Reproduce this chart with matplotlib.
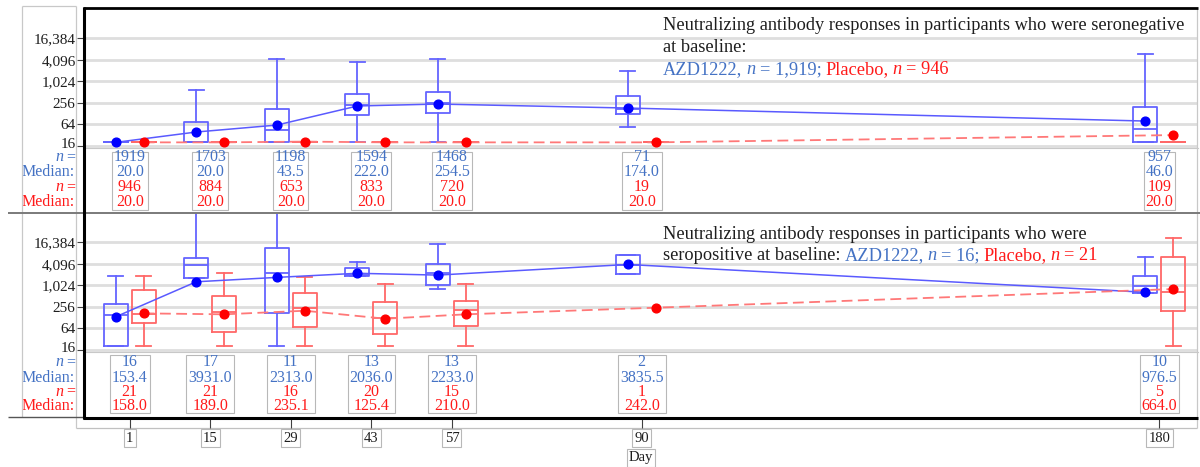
import matplotlib
matplotlib.use('Agg')
import matplotlib.pyplot as plt
from matplotlib.lines import Line2D
from matplotlib.patches import Rectangle
from matplotlib.transforms import blended_transform_factory, Bbox, ScaledTranslation

plt.rcParams['font.family'] = ['Liberation Serif', 'DejaVu Serif']

days = [1, 15, 29, 43, 57, 90, 180]
day_labels = ['1', '15', '29', '43', '57', '90', '180']
ytick_vals = [16, 64, 256, 1024, 4096, 16384]
ytick_text = ['16', '64', '256', '1,024', '4,096', '16,384']

# seronegative at baseline - AZD1222
neg_azd_n = [1919, 1703, 1198, 1594, 1468, 71, 957]
neg_azd_med = [20.0, 20.0, 43.5, 222.0, 254.5, 174.0, 46.0]
neg_azd_q1 = [20, 20, 20, 117, 132, 125, 20]
neg_azd_q3 = [20, 74, 171, 451, 515, 397, 195]
neg_azd_lo = [20, 20, 20, 20, 20, 54, 20]
neg_azd_hi = [20, 583, 4290, 3560, 4290, 1980, 5950]
neg_azd_gmt = [20, 39, 61, 209, 237, 183, 79]

# seronegative at baseline - placebo
neg_pbo_n = [946, 884, 653, 833, 720, 19, 109]
neg_pbo_med = [20.0, 20.0, 20.0, 20.0, 20.0, 20.0, 20.0]
neg_pbo_q1 = [20, 20, 20, 20, 20, 20, 20]
neg_pbo_q3 = [20, 20, 20, 20, 20, 20, 20]
neg_pbo_lo = [20, 20, 20, 20, 20, 20, 20]
neg_pbo_hi = [20, 20, 20, 20, 20, 20, 20]
neg_pbo_gmt = [20, 20, 21, 20, 20, 20, 32]

# seropositive at baseline - AZD1222
pos_azd_n = [16, 17, 11, 13, 13, 2, 10]
pos_azd_med = [153.4, 3931.0, 2313.0, 2036.0, 2233.0, 3835.5, 976.5]
pos_azd_q1 = [20, 1660, 174, 1900, 1045, 2130, 635]
pos_azd_q3 = [301, 5860, 11150, 3180, 4050, 7230, 1900]
pos_azd_lo = [20, 1660, 20, 1900, 790, 2130, 635]
pos_azd_hi = [1900, 120000, 120000, 4680, 14700, 7230, 6200]
pos_azd_gmt = [135, 1290, 1710, 2230, 1985, 3940, 655]

# seropositive at baseline - placebo (day 90 has a single subject, no box)
pos_pbo_n = [21, 21, 16, 20, 15, 1, 5]
pos_pbo_med = [158.0, 189.0, 235.1, 125.4, 210.0, 242.0, 664.0]
pos_pbo_q1 = [92, 51, 71, 43.5, 76, None, 199]
pos_pbo_q3 = [757, 515, 635, 342, 373, None, 6450]
pos_pbo_lo = [20, 20, 20, 20, 20, None, 20]
pos_pbo_hi = [1880, 2310, 1780, 1090, 1110, None, 22400]
pos_pbo_gmt = [168, 158, 199, 119, 158, 242, 806]

AZD_BOX = '#6464ff'
PBO_BOX = '#ff6868'
AZD_DOT = '#0000ff'
PBO_DOT = '#ff0000'
AZD_TXT = '#4472c4'
PBO_TXT = '#ff1a1a'
INK = '#1e1e1e'

W, H = 1200, 467
fig = plt.figure(figsize=(W / 100, H / 100), dpi=100)


def fx(p):
    return p / W


def fy(p):
    return 1 - p / H


left, right = 84, 1198
ax_top = fig.add_axes([fx(left), fy(148), fx(right - left), (148 - 9) / H])
ax_bot = fig.add_axes([fx(left), fy(352), fx(right - left), (352 - 213) / H], sharex=ax_top)
ax_x = fig.add_axes([fx(left), fy(417.5), fx(right - left), 0.0001], sharex=ax_top)

ax_top.set_xlim(-6.95, 186.7)
shift = 2.43
box_w = 4.17
cap_w = 2.6


def draw_boxes(ax, pos, med, q1, q3, lo, hi, color):
    stats, where = [], []
    for p, m, a, b, l, h in zip(pos, med, q1, q3, lo, hi):
        if a is None:
            continue
        stats.append(dict(med=m, q1=a, q3=b, whislo=l, whishi=h))
        where.append(p)
    props = dict(color=color, lw=1.3)
    ax.bxp(stats, positions=where, widths=box_w, capwidths=cap_w, showfliers=False,
           manage_ticks=False, boxprops=props, whiskerprops=props, capprops=props,
           medianprops=props, zorder=2)


def draw_panel(ax, azd, pbo):
    pos_a = [d - shift for d in days]
    pos_p = [d + shift for d in days]
    draw_boxes(ax, pos_a, *azd[:5], AZD_BOX)
    draw_boxes(ax, pos_p, *pbo[:5], PBO_BOX)
    ax.plot(pos_a, azd[5], color='#5a5aff', lw=1.1, zorder=3)
    ax.plot(pos_p, pbo[5], color='#ff7878', lw=1.3, ls=(0, (6, 3)), zorder=3)
    ax.plot(pos_a, azd[5], 'o', ms=6.3, color=AZD_DOT, zorder=4)
    ax.plot(pos_p, pbo[5], 'o', ms=6.3, color=PBO_DOT, zorder=4)

    ax.set_yscale('log', base=4)
    ax.set_ylim(13.9, 109000)
    ax.set_yticks(ytick_vals)
    ax.set_yticklabels(ytick_text)
    ax.minorticks_off()
    ax.yaxis.grid(True, color='#dedede', lw=2.0)
    ax.set_axisbelow(True)
    ax.tick_params(axis='y', direction='out', length=5, width=0.8, color='#404040',
                   labelsize=11, labelcolor=INK, pad=1)
    ax.tick_params(axis='x', bottom=False, labelbottom=False)
    # lowest label sits a little above its tick so it clears the table rows
    low = ax.get_yticklabels()[0]
    low.set_transform(low.get_transform() + ScaledTranslation(0, 3 / 100, fig.dpi_scale_trans))
    for side in ['top', 'left', 'right']:
        ax.spines[side].set_visible(False)
    ax.spines['bottom'].set_color('#c8c8c8')
    ax.patch.set_visible(False)


draw_panel(ax_top,
           (neg_azd_med, neg_azd_q1, neg_azd_q3, neg_azd_lo, neg_azd_hi, neg_azd_gmt),
           (neg_pbo_med, neg_pbo_q1, neg_pbo_q3, neg_pbo_lo, neg_pbo_hi, neg_pbo_gmt))
draw_panel(ax_bot,
           (pos_azd_med, pos_azd_q1, pos_azd_q3, pos_azd_lo, pos_azd_hi, pos_azd_gmt),
           (pos_pbo_med, pos_pbo_q1, pos_pbo_q3, pos_pbo_lo, pos_pbo_hi, pos_pbo_gmt))

# day axis below the frame
ax_x.set_yticks([])
for side in ax_x.spines:
    ax_x.spines[side].set_visible(False)
ax_x.patch.set_visible(False)
ax_x.set_xticks(days)
ax_x.set_xticklabels(day_labels)
ax_x.tick_params(axis='x', direction='out', length=7.2, width=0.8, color='#404040',
                 labelsize=10.5, labelcolor=INK, pad=3)
for lab in ax_x.get_xticklabels():
    lab.set_bbox(dict(boxstyle='square,pad=0.15', fc='white', ec='#b8b8b8', lw=0.8))
fig.text(fx(641), fy(458), 'Day', ha='center', va='center', fontsize=10.5, color=INK,
         bbox=dict(boxstyle='square,pad=0.15', fc='white', ec='#b8b8b8', lw=0.8))


def text_run(ax, x_px, base_px, parts, size):
    prev = None
    for s, color, style, gap in parts:
        if prev is None:
            prev = ax.annotate(s, xy=(x_px, H - base_px), xycoords='figure pixels',
                               va='baseline', ha='left', color=color, style=style,
                               fontsize=size, annotation_clip=False, zorder=6)
        else:
            prev = ax.annotate(s, xy=(1, 0), xycoords=prev, xytext=(gap, 0),
                               textcoords='offset pixels', va='bottom', ha='left',
                               color=color, style=style, fontsize=size,
                               annotation_clip=False, zorder=6)


fs = 13.2
sp = 4
text_run(ax_top, 663, 30.5, [('Neutralizing antibody responses in participants who were seronegative', INK, 'normal', 0)], fs)
text_run(ax_top, 663, 52.3, [('at baseline:', INK, 'normal', 0)], fs)
text_run(ax_top, 663, 74, [('AZD1222,', AZD_TXT, 'normal', 0), ('n', AZD_TXT, 'italic', sp),
                           ('= 1,919;', AZD_TXT, 'normal', sp), ('Placebo,', PBO_TXT, 'normal', sp),
                           ('n', PBO_TXT, 'italic', sp), ('= 946', PBO_TXT, 'normal', sp)], fs)
text_run(ax_bot, 663, 239, [('Neutralizing antibody responses in participants who were', INK, 'normal', 0)], fs)
text_run(ax_bot, 663, 260.5, [('seropositive at baseline:', INK, 'normal', 0), ('AZD1222,', AZD_TXT, 'normal', sp),
                              ('n', AZD_TXT, 'italic', sp), ('= 16;', AZD_TXT, 'normal', sp),
                              ('Placebo,', PBO_TXT, 'normal', sp), ('n', PBO_TXT, 'italic', sp),
                              ('= 21', PBO_TXT, 'normal', sp)], fs)

tfs = 11.5


def row_labels(ax, baselines):
    colors = [AZD_TXT, AZD_TXT, PBO_TXT, PBO_TXT]
    for i, (b, c) in enumerate(zip(baselines, colors)):
        if i % 2 == 0:
            eq = ax.annotate('=', xy=(75, H - b), xycoords='figure pixels', ha='right',
                             va='baseline', color=c, fontsize=tfs, annotation_clip=False)
            ax.annotate('n', xy=(0, 0), xycoords=eq, xytext=(-3, 0), textcoords='offset pixels',
                        ha='right', va='bottom', color=c, style='italic', fontsize=tfs,
                        annotation_clip=False)
        else:
            ax.annotate('Median:', xy=(75, H - b), xycoords='figure pixels', ha='right',
                        va='baseline', color=c, fontsize=tfs, annotation_clip=False)


def stat_table(ax, baselines, box_top, box_bottom, cols):
    tr = blended_transform_factory(ax.transData, fig.transFigure)
    renderer = fig.canvas.get_renderer()
    for i, d in enumerate(days):
        texts = []
        for (vals, color), b in zip(cols, baselines):
            texts.append(fig.text(d, fy(b), vals[i], transform=tr, ha='center', va='baseline',
                                  color=color, fontsize=tfs))
        bb = Bbox.union([t.get_window_extent(renderer) for t in texts])
        x0, x1 = bb.x0 - 2, bb.x1 + 2
        fig.add_artist(Rectangle((fx(x0), fy(box_bottom)), fx(x1 - x0), (box_bottom - box_top) / H,
                                 transform=fig.transFigure, fill=False, ec='#b8b8b8', lw=0.8))


top_rows = [161, 176, 191, 206]
bot_rows = [366.5, 381.5, 395.5, 410]
row_labels(ax_top, top_rows)
row_labels(ax_bot, bot_rows)
stat_table(ax_top, top_rows, 151.5, 210,
           [([str(v) for v in neg_azd_n], AZD_TXT), ([f'{v:.1f}' for v in neg_azd_med], AZD_TXT),
            ([str(v) for v in neg_pbo_n], PBO_TXT), ([f'{v:.1f}' for v in neg_pbo_med], PBO_TXT)])
stat_table(ax_bot, bot_rows, 355, 413,
           [([str(v) for v in pos_azd_n], AZD_TXT), ([f'{v:.1f}' for v in pos_azd_med], AZD_TXT),
            ([str(v) for v in pos_pbo_n], PBO_TXT), ([f'{v:.1f}' for v in pos_pbo_med], PBO_TXT)])


def fline(x0, y0, x1, y1, color, lw, z=2):
    fig.add_artist(Line2D([fx(x0), fx(x1)], [fy(y0), fy(y1)], transform=fig.transFigure,
                          color=color, lw=lw, zorder=z, solid_capstyle='butt'))


# outer frame and separators
fline(22, 6, 75.5, 6, '#c8c8c8', 0.9)
fline(22, 6, 22, 417, '#c8c8c8', 0.9)
fline(75.5, 6, 75.5, 428, '#c8c8c8', 0.9)
fline(75.5, 428, 1197, 428, '#c0c0c0', 0.9, z=-1)
fline(1197, 8, 1197, 428, '#c8c8c8', 0.9)
fline(8, 212.5, 1200, 212.5, '#7a7a7a', 1.4)
fline(8, 417, 84, 417, '#555555', 1.0)
fline(83, 8, 1198, 8, 'black', 2.0)
fline(84, 7, 84, 418.5, 'black', 2.2)
fline(83, 417.5, 1198, 417.5, 'black', 2.2)

fig.savefig('out.png', dpi=100)
